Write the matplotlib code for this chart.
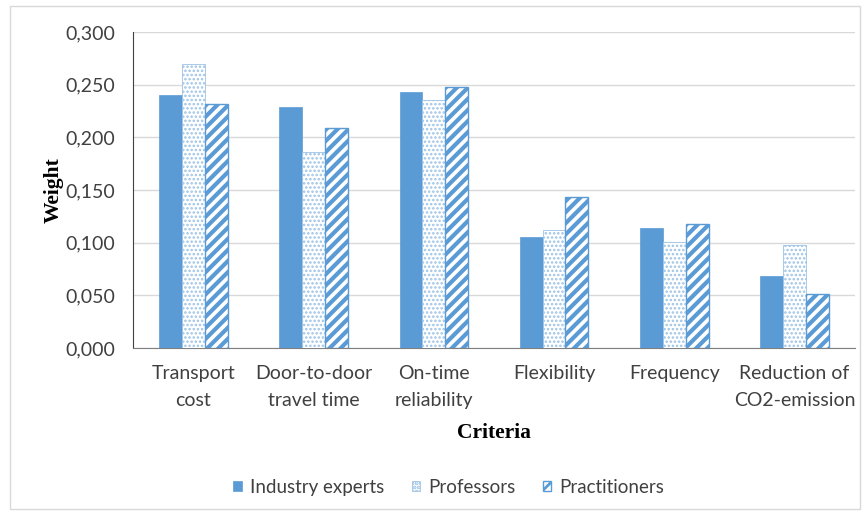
import matplotlib
matplotlib.use("Agg")
import matplotlib.pyplot as plt
import numpy as np
from matplotlib.ticker import FuncFormatter
from matplotlib.patches import Rectangle

categories = ["Transport\ncost", "Door-to-door\ntravel time", "On-time\nreliability",
              "Flexibility", "Frequency", "Reduction of\nCO2-emission"]
series_names = ["Industry experts", "Professors", "Practitioners"]
industry = [0.240, 0.229, 0.243, 0.105, 0.114, 0.068]
professors = [0.270, 0.186, 0.235, 0.112, 0.101, 0.098]
practitioners = [0.232, 0.209, 0.248, 0.143, 0.118, 0.051]
yticks = [0.0, 0.05, 0.10, 0.15, 0.20, 0.25, 0.30]

blue = "#5B9BD5"
plt.rcParams['font.family'] = ['Lato', 'DejaVu Sans']
plt.rcParams['hatch.linewidth'] = 2.0

fig = plt.figure(figsize=(8.65, 5.15), dpi=100)
ax = fig.add_axes([0.154, 0.324, 0.834, 0.614])

x = np.arange(len(categories))
w = 0.19
ax.bar(x - w, industry, w, color=blue, edgecolor=blue, linewidth=0.5,
       label=series_names[0], zorder=3)
b2 = ax.bar(x, professors, w, facecolor="white", edgecolor="#9DC3E6", hatch="....",
            linewidth=0.6, label=series_names[1], zorder=3)
b3 = ax.bar(x + w, practitioners, w, facecolor="white", edgecolor=blue, hatch="///",
            linewidth=1.0, label=series_names[2], zorder=3)
for p in b2:
    if hasattr(p, "set_hatch_linewidth"):
        p.set_hatch_linewidth(1.2)
for p in b3:
    if hasattr(p, "set_hatch_linewidth"):
        p.set_hatch_linewidth(3.0)

ax.set_xlim(-0.5, len(categories) - 0.5)
ax.set_ylim(0, 0.30)
ax.set_yticks(yticks)
ax.yaxis.set_major_formatter(FuncFormatter(lambda v, p: f"{v:.3f}".replace(".", ",")))
ax.set_xticks(x)
ax.set_xticklabels(categories, fontsize=14, color="#404040", linespacing=1.7)
ax.tick_params(axis='y', labelsize=14, labelcolor="#404040", length=0, pad=13)
ax.tick_params(axis='x', length=0, pad=12)
ax.yaxis.grid(True, color="#D9D9D9", linewidth=1, zorder=0)
ax.set_axisbelow(True)
for s in ["top", "right"]:
    ax.spines[s].set_visible(False)
ax.spines["left"].set_color("#404040")
ax.spines["bottom"].set_color("#7F7F7F")

serif = ["Liberation Serif", "DejaVu Serif"]
ax.set_ylabel("Weight", fontsize=15.5, fontweight="bold", family=serif, labelpad=0)
ax.yaxis.set_label_coords(-0.097, 0.5)
ax.set_xlabel("Criteria", fontsize=15.5, fontweight="bold", family=serif)
ax.xaxis.set_label_coords(0.5, -0.238)

leg = fig.legend(loc="center", bbox_to_anchor=(0.519, 0.054), ncol=3, frameon=False,
                 fontsize=13.5, handlelength=0.45, handleheight=0.45,
                 handletextpad=0.45, columnspacing=1.45)
for t in leg.get_texts():
    t.set_color("#404040")

fig.patches.append(Rectangle((0.012, 0.012), 0.982, 0.976, transform=fig.transFigure,
                             fill=False, edgecolor="#D9D9D9", linewidth=1))

fig.savefig("out.png", dpi=100)
